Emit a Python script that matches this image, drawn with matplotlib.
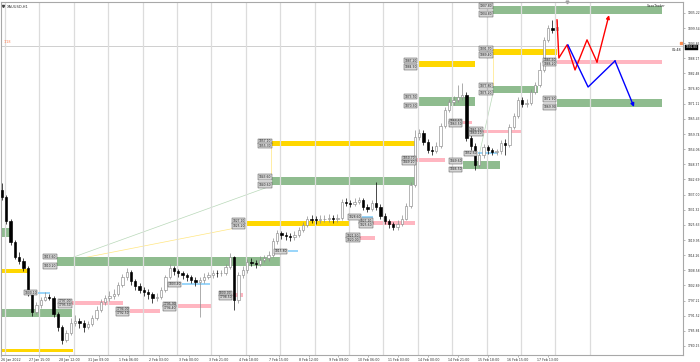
import numpy as np
import matplotlib
matplotlib.use("Agg")
import matplotlib.pyplot as plt
from matplotlib.transforms import blended_transform_factory

# ---------------- data ----------------
symbol = "XAUUSD,H1"
broker = "SaxoTrader"
first_open = 1838.7
closes = [1836.1, 1827.1, 1819.2, 1813.6, 1812.1, 1809.4, 1800.1, 1792.9, 1795.5, 1797.6,
          1798.7, 1798.2, 1792.2, 1787.3, 1782.4, 1785.0, 1788.9, 1789.6, 1788.9, 1787.4,
          1788.4, 1790.7, 1793.7, 1796.7, 1798.0, 1799.0, 1799.8, 1803.1, 1806.1, 1807.8,
          1804.6, 1802.7, 1801.3, 1800.5, 1799.7, 1798.2, 1798.6, 1801.2, 1806.1, 1809.4,
          1808.3, 1807.4, 1806.8, 1806.1, 1805.1, 1804.2, 1804.9, 1806.2, 1806.8, 1807.6,
          1807.4, 1807.6, 1809.8, 1813.6, 1797.4, 1806.8, 1808.7, 1811.7, 1811.3, 1810.9,
          1812.4, 1813.2, 1814.3, 1819.6, 1822.6, 1821.8, 1821.3, 1821.1, 1821.8, 1823.7,
          1825.6, 1827.8, 1827.6, 1827.5, 1827.8, 1828.0, 1828.1, 1827.8, 1828.2, 1834.2,
          1833.8, 1833.5, 1834.4, 1834.9, 1832.3, 1831.7, 1833.8, 1832.3, 1829.0, 1826.9,
          1825.8, 1824.8, 1826.0, 1828.0, 1832.7, 1840.6, 1858.6, 1860.3, 1856.8, 1853.7,
          1853.5, 1855.4, 1862.8, 1868.8, 1871.6, 1872.7, 1873.6, 1874.4, 1858.3, 1855.3,
          1848.1, 1851.9, 1854.7, 1853.6, 1853.0, 1853.4, 1856.4, 1855.6, 1862.4, 1866.5,
          1872.5, 1871.0, 1871.4, 1875.5, 1878.2, 1883.8, 1895.1, 1899.6, 1898.8, 1899.9]
highs = [1841.4, 1836.9, 1827.8, 1820.0, 1815.4, 1813.2, 1810.2, 1800.8, 1796.7, 1798.6,
         1800.4, 1799.7, 1798.9, 1792.9, 1788.0, 1786.2, 1790.7, 1791.8, 1790.7, 1789.9,
         1789.5, 1791.8, 1795.2, 1797.8, 1799.3, 1800.8, 1801.6, 1804.2, 1807.2, 1809.4,
         1808.7, 1805.3, 1803.8, 1802.3, 1801.6, 1800.4, 1800.1, 1802.3, 1806.8, 1810.9,
         1810.2, 1809.1, 1808.3, 1807.6, 1806.8, 1806.1, 1806.1, 1807.6, 1807.9, 1808.7,
         1808.7, 1808.7, 1810.9, 1815.1, 1813.9, 1807.9, 1810.2, 1812.8, 1813.2, 1812.4,
         1813.9, 1814.3, 1815.8, 1820.7, 1823.7, 1823.3, 1823.0, 1822.6, 1823.3, 1824.8,
         1826.7, 1829.0, 1829.3, 1829.0, 1829.3, 1829.3, 1829.7, 1829.3, 1829.7, 1835.3,
         1835.7, 1835.0, 1835.7, 1836.1, 1835.7, 1833.5, 1835.0, 1841.7, 1833.5, 1830.1,
         1827.8, 1826.7, 1827.5, 1829.3, 1833.8, 1841.7, 1861.3, 1861.6, 1861.3, 1857.9,
         1855.3, 1856.8, 1863.9, 1869.9, 1872.9, 1874.0, 1878.2, 1878.9, 1875.5, 1859.4,
         1856.4, 1853.0, 1856.0, 1855.6, 1854.5, 1854.1, 1857.5, 1857.9, 1863.5, 1867.6,
         1873.6, 1873.6, 1872.9, 1876.7, 1879.3, 1886.8, 1896.2, 1900.7, 1902.6, 1902.6]
lows = [1835.0, 1826.0, 1818.1, 1812.8, 1810.9, 1808.3, 1798.9, 1791.4, 1792.2, 1794.4,
        1797.0, 1797.4, 1791.0, 1785.8, 1780.9, 1781.7, 1784.3, 1787.7, 1786.9, 1785.4,
        1786.5, 1787.7, 1789.9, 1792.9, 1795.5, 1797.0, 1797.8, 1798.9, 1802.3, 1804.9,
        1803.1, 1801.2, 1800.1, 1798.9, 1797.8, 1796.3, 1797.0, 1797.8, 1800.4, 1805.3,
        1806.8, 1806.1, 1805.3, 1804.6, 1803.8, 1802.7, 1791.0, 1803.8, 1805.3, 1805.7,
        1806.1, 1806.4, 1806.8, 1809.1, 1793.7, 1796.3, 1805.7, 1807.6, 1810.2, 1809.4,
        1810.2, 1811.7, 1812.1, 1813.6, 1818.5, 1820.3, 1820.0, 1819.6, 1820.0, 1821.1,
        1823.0, 1824.8, 1826.3, 1826.0, 1826.3, 1826.7, 1826.7, 1826.3, 1826.7, 1827.5,
        1832.7, 1832.3, 1832.7, 1833.5, 1831.2, 1830.5, 1830.8, 1831.2, 1827.8, 1826.0,
        1824.5, 1823.7, 1823.7, 1825.2, 1827.5, 1832.0, 1839.9, 1857.5, 1855.6, 1852.6,
        1851.9, 1852.6, 1854.5, 1862.0, 1868.0, 1870.6, 1871.8, 1872.5, 1857.1, 1853.7,
        1846.2, 1847.4, 1850.7, 1852.2, 1851.9, 1851.9, 1852.2, 1851.9, 1854.9, 1861.6,
        1865.8, 1869.9, 1869.9, 1870.6, 1874.8, 1877.4, 1883.0, 1894.3, 1897.7, 1898.1]

first_time_label = "26 Jan 2022"
time_labels = ["27 Jan 15:00", "28 Jan 12:00", "31 Jan 09:00", "1 Feb 06:00", "2 Feb 03:00",
               "3 Feb 00:00", "3 Feb 21:00", "4 Feb 18:00", "7 Feb 15:00", "8 Feb 12:00",
               "9 Feb 09:00", "10 Feb 06:00", "11 Feb 03:00", "14 Feb 00:00", "14 Feb 21:00",
               "15 Feb 18:00", "16 Feb 15:00", "17 Feb 13:00"]
price_ticks = [1780.15, 1785.84, 1791.52, 1797.21, 1802.89, 1808.58, 1814.26, 1819.95,
               1825.63, 1831.32, 1837.00, 1842.69, 1848.37, 1854.06, 1859.74, 1865.43,
               1871.11, 1876.80, 1882.48, 1888.17, 1893.85, 1899.54, 1905.22]

# zones: (start bar, end bar, low price, high price, labelled)
green_zones = [(114.2, 153.5, 1904.8, 1907.8, True), (129.07, 153.5, 1869.9, 1872.9, True),
               (114.2, 124.65, 1875.2, 1877.8, True), (96.7, 110.0, 1870.3, 1873.7, True),
               (62.8, 96.3, 1840.6, 1843.6, True), (107.2, 115.8, 1846.5, 1849.6, True),
               (12.8, 64.65, 1810.2, 1813.6, True), (-0.5, 16.3, 1791.0, 1794.0, False),
               (-0.5, 2.3, 1821.1, 1824.5, False)]
yellow_zones = [(114.2, 129.07, 1889.4, 1891.7, True), (96.7, 110.0, 1884.9, 1887.2, True),
                (62.8, 96.3, 1855.3, 1857.1, True), (56.7, 80.7, 1825.2, 1827.1, True),
                (-0.5, 6.05, 1807.6, 1809.1, False), (-0.5, 16.5, 1777.9, 1779.0, False)]
pink_zones = [(129.07, 153.5, 1886.2, 1887.5, True), (111.9, 120.9, 1860.1, 1861.3, True),
              (107.2, 109.3, 1863.5, 1864.6, True), (96.3, 103.0, 1849.2, 1850.7, True),
              (86.3, 96.05, 1825.6, 1827.1, True), (83.3, 86.7, 1820.0, 1821.5, True),
              (53.7, 56.05, 1798.5, 1800.0, True), (40.7, 48.84, 1794.4, 1795.9, True),
              (29.77, 36.74, 1792.5, 1794.0, True), (16.3, 28.14, 1795.5, 1797.0, True)]
blue_levels = [(8.37, 11.16, 1800.1), (41.86, 48.37, 1803.4), (66.5, 68.84, 1815.8),
               (83.7, 86.3, 1828.6), (110.7, 115.35, 1852.6)]

red_path_t = [129.07, 129.5, 131.4, 133.26, 136.05, 138.37, 141.16]
red_path_p = [1902.6, 1888.3, 1893.2, 1883.8, 1895.1, 1886.8, 1904.4]
blue_path_t = [131.6, 136.3, 142.56, 146.98]
blue_path_p = [1893.2, 1877.4, 1887.2, 1869.9]

links_green = [((12.8, 62.8), (1811.3, 1840.4)), ((110.7, 114.2), (1850.0, 1875.2))]
links_yellow = [((12.8, 56.7), (1811.3, 1825.2)), ((62.6, 62.6), (1855.3, 1843.6)),
                ((114.2, 114.2), (1877.8, 1889.4))]

bid_price = 1892.80
countdown = "01:48"

# ---------------- figure ----------------
W, H = 700, 362
fig = plt.figure(figsize=(W / 100, H / 100), dpi=100)
ax = fig.add_axes([1 / W, 7 / H, 682 / W, 353 / H])
ax.set_facecolor("white")
ax.set_xlim(-0.23, 158.37)
ax.set_ylim(1776.77, 1909.32)

for s in ax.spines.values():
    s.set_color("#a8a8a8")
    s.set_linewidth(0.8)

# vertical grid (minor ticks)
grid_pos = np.arange(0.7, 137, 8)
ax.set_xticks(grid_pos, minor=True)
ax.grid(which="minor", axis="x", color="#dcdcdc", lw=0.9)
ax.tick_params(axis="x", which="minor", length=0)

# x labels
label_pos = np.linspace(8.6, 127.0, len(time_labels))
ax.set_xticks([-0.23] + list(label_pos))
ax.set_xticklabels([first_time_label] + time_labels)
ax.tick_params(axis="x", which="major", labelsize=2.3, length=1.5, width=0.4,
               color="#808080", labelcolor="#303030", pad=1)
ax.get_xticklabels()[0].set_ha("left")

# y labels on the right
ax.yaxis.tick_right()
ax.set_yticks(price_ticks)
ax.set_yticklabels([f"{v:.2f}" for v in price_ticks])
ax.tick_params(axis="y", labelsize=2.2, length=1.5, width=0.4, color="#808080",
               labelcolor="#303030", pad=1.5)

# bid line
ax.axhline(bid_price, color="#c8c8c8", lw=0.6, zorder=1)

# zones
def tag(x_right, y, txt):
    ax.text(x_right - 0.25, y, txt, ha="right", va="center", fontsize=2.2,
            color="#202020", zorder=6,
            bbox=dict(boxstyle="square,pad=0.18", fc="#d6d6d6", ec="#505050", lw=0.35))

for zones, col in ((green_zones, "#8fbc8f"), (yellow_zones, "#ffd700"), (pink_zones, "#ffb6c1")):
    for x0, x1, lo, hi, lab in zones:
        ax.fill_between([x0, x1], lo, hi, color=col, lw=0, zorder=1.5)
        if lab:
            tag(x0, hi, f"{hi:.2f}")
            tag(x0, lo, f"{lo:.2f}")

for x0, x1, p in blue_levels:
    ax.plot([x0, x1], [p, p], color="#87cefa", lw=1.2, zorder=2, solid_capstyle="butt")
    tag(x0, p, f"{p:.2f}")

for xs, ys in links_green:
    ax.plot(xs, ys, color="#b8d8b8", lw=0.5, zorder=1.2)
for xs, ys in links_yellow:
    ax.plot(xs, ys, color="#ffe680", lw=0.5, zorder=1.2)

# candles
c = np.array(closes)
o = np.r_[first_open, c[:-1]]
h = np.array(highs)
l = np.array(lows)
x = np.arange(len(c))
up = c >= o
ax.vlines(x[up], l[up], h[up], color="#8c8c8c", lw=0.5, zorder=3)
ax.vlines(x[~up], l[~up], h[~up], color="#000000", lw=0.5, zorder=3)
body_lo = np.minimum(o, c)
body_h = np.maximum(np.abs(c - o), 0.15)
ax.bar(x[up], body_h[up], bottom=body_lo[up], width=0.55, color="white",
       edgecolor="#8c8c8c", lw=0.45, zorder=4)
ax.bar(x[~up], body_h[~up], bottom=body_lo[~up], width=0.55, color="black",
       edgecolor="black", lw=0.45, zorder=4)

# projection zigzags
ax.plot(red_path_t[:-1], red_path_p[:-1], color="red", lw=1.0, zorder=7)
ax.annotate("", xy=(red_path_t[-1], red_path_p[-1]), xytext=(red_path_t[-2], red_path_p[-2]),
            arrowprops=dict(arrowstyle="-|>", color="red", lw=1.0, mutation_scale=5,
                            shrinkA=0, shrinkB=0), zorder=7)
ax.plot(blue_path_t[:-1], blue_path_p[:-1], color="blue", lw=1.0, zorder=7)
ax.annotate("", xy=(blue_path_t[-1], blue_path_p[-1]), xytext=(blue_path_t[-2], blue_path_p[-2]),
            arrowprops=dict(arrowstyle="-|>", color="blue", lw=1.0, mutation_scale=5,
                            shrinkA=0, shrinkB=0), zorder=7)

# texts / markers
trans = blended_transform_factory(ax.transAxes, ax.transData)
ax.text(1.0035, bid_price - 0.5, f"{bid_price:.2f}", transform=trans, ha="left", va="center",
        fontsize=2.1, color="white", clip_on=False,
        bbox=dict(boxstyle="square,pad=0.15", fc="black", ec="black", lw=0.3))
ax.text(0.998, bid_price - 0.6, countdown, transform=trans, ha="right", va="top",
        fontsize=2.4, color="#202020")
ax.plot([0.997], [bid_price + 1.3], marker="s", ms=1.6, color="#ff8c50", transform=trans,
        clip_on=False)
ax.text(0.004, bid_price + 0.8, "1/18", transform=trans, ha="left", va="bottom",
        fontsize=2.4, color="#ff7f50")

ax.text(0.008, 0.992, symbol, transform=ax.transAxes, ha="left", va="top",
        fontsize=2.6, color="#303030")
ax.plot([0.0035], [0.9895], marker="v", ms=1.5, color="#404040",
        transform=ax.transAxes, clip_on=False)
ax.text(0.975, 0.993, broker, transform=ax.transAxes, ha="right", va="top",
        fontsize=2.4, color="#303030")
ax.plot([131.4], [1], marker="v", ms=2, color="#a0a0a0",
        transform=blended_transform_factory(ax.transData, ax.transAxes), clip_on=False)

fig.savefig("out.png", dpi=100)
